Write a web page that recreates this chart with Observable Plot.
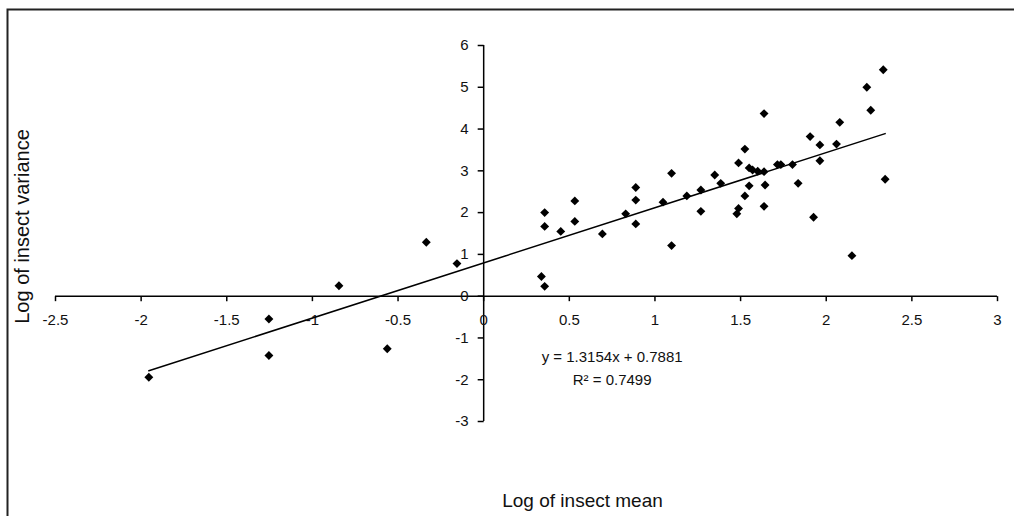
<!DOCTYPE html>
<html><head><meta charset="utf-8">
<script src="https://cdn.jsdelivr.net/npm/d3@7"></script>
<script src="https://cdn.jsdelivr.net/npm/@observablehq/plot@0.6"></script>
<style>html,body{margin:0;padding:0;overflow:hidden;background:#fff}</style>
</head><body><div id="chart"></div>
<script>
// Log of insect mean (x) and log of insect variance (y)
const logMean = [-1.955, -1.254, -1.254, -0.845, -0.563, -0.335, -0.156, 0.337, 0.356, 0.356,
  0.356, 0.45, 0.532, 0.532, 0.693, 0.829, 0.888, 0.888, 0.888, 1.047,
  1.097, 1.097, 1.186, 1.268, 1.268, 1.349, 1.384, 1.488, 1.478, 1.488,
  1.525, 1.525, 1.55, 1.55, 1.57, 1.60, 1.637, 1.637, 1.643, 1.637,
  1.715, 1.735, 1.803, 1.836, 1.906, 1.926, 1.963, 1.963, 2.06, 2.079,
  2.15, 2.237, 2.26, 2.333, 2.344];
const logVariance = [-1.94, -0.545, -1.42, 0.25, -1.26, 1.29, 0.78, 0.47, 0.235, 2.0,
  1.67, 1.55, 2.28, 1.79, 1.49, 1.97, 2.60, 2.30, 1.73, 2.25,
  2.94, 1.21, 2.40, 2.54, 2.03, 2.90, 2.70, 3.19, 1.97, 2.10,
  3.52, 2.40, 3.07, 2.64, 3.02, 2.99, 4.37, 2.98, 2.66, 2.15,
  3.15, 3.15, 3.15, 2.70, 3.82, 1.89, 3.62, 3.24, 3.64, 4.16,
  0.97, 5.0, 4.45, 5.42, 2.80];

const xTickValues = [-2.5, -2, -1.5, -1, -0.5, 0, 0.5, 1, 1.5, 2, 2.5, 3];
const xTickLabels = ["-2.5", "-2", "-1.5", "-1", "-0.5", "0", "0.5", "1", "1.5", "2", "2.5", "3"];
const yTickValues = [-3, -2, -1, 0, 1, 2, 3, 4, 5, 6];
const yTickLabels = ["-3", "-2", "-1", "0", "1", "2", "3", "4", "5", "6"];
const xTitle = "Log of insect mean";
const yTitle = "Log of insect variance";
const equationText = "y = 1.3154x + 0.7881\nR\u00B2 = 0.7499";

const points = logMean.map((m, i) => ({mean: m, variance: logVariance[i]}));
const xTicks = xTickValues.map((v, i) => ({v, label: xTickLabels[i]}));
const yTicks = yTickValues.map((v, i) => ({v, label: yTickLabels[i]}));

const tickDown = {draw(ctx) { ctx.moveTo(0, 0); ctx.lineTo(0, 5); }};
const tickLeft = {draw(ctx) { ctx.moveTo(0, 0); ctx.lineTo(-6, 0); }};

const chart = Plot.plot({
  width: 1014,
  height: 516,
  marginLeft: 55,
  marginRight: 17,
  marginTop: 45,
  marginBottom: 95,
  x: {domain: [-2.5, 3], axis: null},
  y: {domain: [-3, 6], axis: null},
  style: {fontFamily: "'Liberation Sans', Arial, sans-serif", fontSize: "15px", color: "#111", background: "#fff", overflow: "hidden"},
  marks: [
    Plot.frame({insetLeft: -48, insetTop: -36, insetRight: -40, insetBottom: -130, stroke: "#222", strokeWidth: 2}),
    Plot.ruleY([0], {stroke: "#000", strokeWidth: 1.5}),
    Plot.ruleX([0], {y1: -3, y2: 6, stroke: "#000", strokeWidth: 1.5}),
    Plot.dot(xTicks, {x: "v", y: 0, symbol: tickDown, stroke: "#000", strokeWidth: 1.5, fill: "none"}),
    Plot.dot(yTicks, {x: 0, y: "v", symbol: tickLeft, stroke: "#000", strokeWidth: 1.5, fill: "none"}),
    Plot.text(xTicks, {x: "v", y: 0, text: "label", dy: 24, fontSize: 15, fill: "#111"}),
    Plot.text(yTicks, {x: 0, y: "v", text: "label", dx: -15, textAnchor: "end", fontSize: 15, fill: "#111"}),
    Plot.linearRegressionY(points, {x: "mean", y: "variance", ci: 0, stroke: "#000", strokeWidth: 1.5}),
    Plot.dot(points, {x: "mean", y: "variance", symbol: "diamond2", r: 4, fill: "#000", stroke: "none"}),
    Plot.text([equationText], {x: 0.75, y: -1.67, text: d => d, lineHeight: 1.55, fontSize: 15, fill: "#111"}),
    Plot.text([xTitle], {frameAnchor: "bottom", textAnchor: "middle", lineAnchor: "middle", dx: 56, dy: 79, text: d => d, fontSize: 19, fill: "#111"}),
    Plot.text([yTitle], {frameAnchor: "left", textAnchor: "middle", lineAnchor: "middle", dx: -33, dy: -7, rotate: -90, text: d => d, fontSize: 20, fill: "#111"})
  ]
});
document.getElementById("chart").appendChild(chart);
</script>
</body></html>
